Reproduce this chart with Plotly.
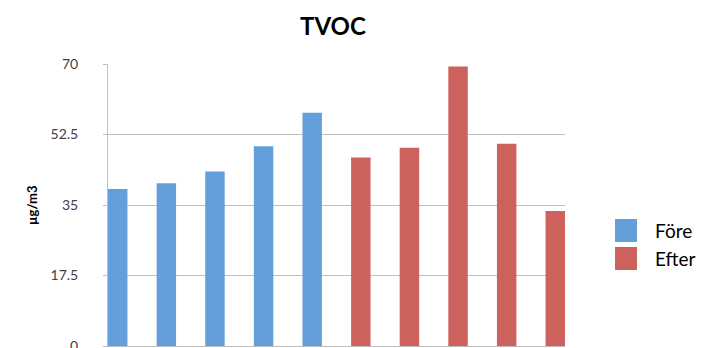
import plotly.graph_objects as go

# TVOC measurements, before and after
matpunkter = list(range(10))
fore_varden = [39.0, 40.4, 43.3, 49.6, 57.9]
efter_varden = [46.8, 49.2, 69.4, 50.2, 33.5]
serier = ["Före", "Efter"]
y_ticks = [0, 17.5, 35, 52.5, 70]
y_ticktext = ["0", "17.5", "35", "52.5", "70"]

BLUE = "#649FDC"
RED = "#CD625C"
FONT = "Lato, Carlito, Calibri, sans-serif"

W, H = 701, 348
L, R, T, B = 108, 136, 64, 2
PW, PH = W - L - R, H - T - B


def px_x(x):
    return (x - L) / PW


def px_y(y):
    return (H - B - y) / PH


fig = go.Figure()
fig.add_trace(go.Bar(x=matpunkter[:5], y=fore_varden, name=serier[0],
                     marker=dict(color=BLUE, line=dict(width=0)), width=0.4))
fig.add_trace(go.Bar(x=matpunkter[5:], y=efter_varden, name=serier[1],
                     marker=dict(color=RED, line=dict(width=0)), width=0.4))

fig.update_layout(
    width=W, height=H,
    margin=dict(l=L, r=R, t=T, b=B, autoexpand=False),
    paper_bgcolor="white", plot_bgcolor="white",
    barmode="overlay", showlegend=False,
    font=dict(family=FONT, color="#404040"),
)
fig.update_xaxes(range=[-0.2, 9.2], showticklabels=False, showgrid=False,
                 showline=True, linecolor="#BFBFBF", linewidth=1,
                 zeroline=False, ticks="", automargin=False)
fig.update_yaxes(range=[0, 70], tickvals=y_ticks, ticktext=y_ticktext,
                 showgrid=True, gridcolor="#BFBFBF", gridwidth=1,
                 showline=True, linecolor="#BFBFBF", linewidth=1,
                 ticks="outside", ticklen=4, tickcolor="#BFBFBF",
                 ticklabelstandoff=22, ticklabeloverflow="allow", zeroline=False,
                 automargin=False,
                 tickfont=dict(size=14, color="#404040", family=FONT))

# title
fig.add_annotation(text="<b>TVOC</b>", xref="paper", yref="paper",
                   x=px_x(333), y=px_y(26), xanchor="center", yanchor="middle",
                   showarrow=False, font=dict(size=24, color="#000000", family=FONT))
# y-axis title
fig.add_annotation(text="<b>µg/m3</b>", xref="paper", yref="paper",
                   x=px_x(32), y=0.5, xanchor="center", yanchor="middle",
                   textangle=-90, showarrow=False,
                   font=dict(size=13, color="#000000", family=FONT))

# legend
for i, (namn, farg) in enumerate(zip(serier, [BLUE, RED])):
    top = 219 + i * 28
    fig.add_shape(type="rect", xref="paper", yref="paper",
                  x0=px_x(615), x1=px_x(637), y0=px_y(top + 23), y1=px_y(top),
                  fillcolor=farg, line=dict(width=0))
    fig.add_annotation(text=namn, xref="paper", yref="paper",
                       x=px_x(653), y=px_y(top + 11.5), xanchor="left", yanchor="middle",
                       showarrow=False, font=dict(size=19, color="#000000", family=FONT))

fig.write_html("out.html")
